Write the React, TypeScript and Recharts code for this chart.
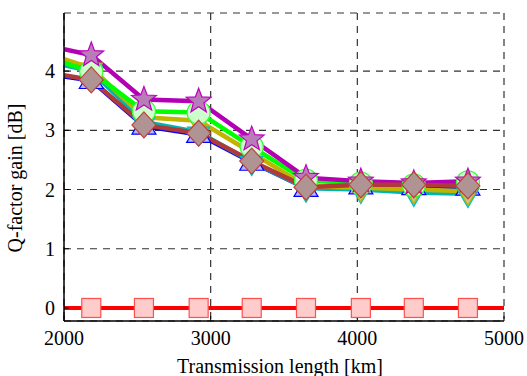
import React from 'react';
import {
  LineChart,
  Line,
  XAxis,
  YAxis,
  CartesianGrid,
} from 'recharts';

// transmission lengths [km]; first point sits on the left frame (no marker)
const lengths = [2000, 2186, 2545, 2918, 3280, 3650, 4024, 4385, 4754];
const redLengths = [2000, 2186, 2545, 2918, 3280, 3650, 4024, 4385, 4754, 5000];

// Q-factor gain [dB]
const blueGain = [3.91, 3.84, 3.07, 2.93, 2.46, 2.02, 2.06, 2.05, 2.04];
const cyanGain = [4.1, 4.0, 3.14, 2.97, 2.47, 2.02, 2.0, 1.95, 1.93];
const yellowGain = [4.2, 4.05, 3.22, 3.16, 2.62, 2.06, 2.03, 2.0, 1.97];
const greenGain = [4.14, 3.99, 3.32, 3.3, 2.72, 2.15, 2.1, 2.07, 2.12];
const magentaGain = [4.37, 4.27, 3.52, 3.49, 2.85, 2.2, 2.14, 2.11, 2.14];
const brownGain = [3.93, 3.85, 3.09, 2.95, 2.48, 2.04, 2.08, 2.08, 2.06];
const redGain = [0, 0, 0, 0, 0, 0, 0, 0, 0, 0];

const xTicks = [2000, 3000, 4000, 5000];
const yTicks = [0, 1, 2, 3, 4];

const toPoints = (xs: number[], ys: number[]) => xs.map((x, i) => ({ x, y: ys[i] }));

const FONT = "'Liberation Serif', 'Times New Roman', serif";

type Shape = 'square' | 'triUp' | 'triDown' | 'circle' | 'star' | 'diamond';

const starPath = (cx: number, cy: number, ro: number, ri: number) => {
  const pts: string[] = [];
  for (let k = 0; k < 10; k++) {
    const r = k % 2 === 0 ? ro : ri;
    const a = -Math.PI / 2 + (k * Math.PI) / 5;
    pts.push(`${cx + r * Math.cos(a)},${cy + r * Math.sin(a)}`);
  }
  return `M${pts.join('L')}Z`;
};

const makeDot = (shape: Shape, fill: string, stroke: string, lastIndex: number) => (props: any) => {
  const { cx, cy, index } = props;
  const key = `${shape}-${index}`;
  if (index === 0 || index > lastIndex || cx == null || cy == null) return <g key={key} />;
  const common = { fill, stroke, strokeWidth: 1.2 };
  switch (shape) {
    case 'square':
      return <rect key={key} x={cx - 9.5} y={cy - 9.5} width={19} height={19} {...common} />;
    case 'triUp':
      return <path key={key} d={`M${cx},${cy - 12}L${cx + 12},${cy + 8}L${cx - 12},${cy + 8}Z`} {...common} />;
    case 'triDown':
      return <path key={key} d={`M${cx - 11},${cy - 5}L${cx + 11},${cy - 5}L${cx},${cy + 14}Z`} {...common} />;
    case 'circle':
      return <circle key={key} cx={cx} cy={cy} r={11.5} {...common} />;
    case 'star':
      return <path key={key} d={starPath(cx, cy, 13, 5.5)} {...common} />;
    case 'diamond':
    default:
      return <path key={key} d={`M${cx},${cy - 13}L${cx + 12},${cy}L${cx},${cy + 13}L${cx - 12},${cy}Z`} {...common} />;
  }
};

const series = [
  { name: 'blue', data: blueGain, color: '#0000ff', shape: 'triUp' as Shape, fill: '#b4b8ff', mstroke: '#0000ff' },
  { name: 'cyan', data: cyanGain, color: '#00b4b4', shape: 'triDown' as Shape, fill: '#5cb8b8', mstroke: '#00c0c0' },
  { name: 'yellow', data: yellowGain, color: '#c0b400', shape: 'triDown' as Shape, fill: '#c8c48a', mstroke: '#c0b400' },
  { name: 'green', data: greenGain, color: '#00ff00', shape: 'circle' as Shape, fill: '#ccffcc', mstroke: '#33ff33' },
  { name: 'magenta', data: magentaGain, color: '#b400b4', shape: 'star' as Shape, fill: '#b87cb8', mstroke: '#c000c0' },
  { name: 'brown', data: brownGain, color: '#b03a3a', shape: 'diamond' as Shape, fill: '#b09494', mstroke: '#c0403a' },
];

const textStyle = { fill: '#000', fontSize: 20, fontFamily: FONT };

export default function App() {
  return (
    <div
      style={{
        position: 'fixed',
        left: 0,
        top: 0,
        width: 527,
        height: 376,
        overflow: 'hidden',
        background: '#fff',
        fontFamily: FONT,
      }}
    >
      <style>{`.recharts-wrapper text, .recharts-text { font-family: ${FONT} !important; }`}</style>
      <LineChart
        width={527}
        height={376}
        margin={{ top: 13, right: 23, left: 0, bottom: 0 }}
        style={{ fontFamily: FONT }}
      >
        <CartesianGrid stroke="#333" strokeDasharray="7 6" strokeWidth={1.2} />
        <XAxis
          dataKey="x"
          type="number"
          domain={[2000, 5000]}
          ticks={xTicks}
          allowDataOverflow
          height={55}
          tickSize={-5}
          tickMargin={15}
          axisLine={{ stroke: '#000', strokeWidth: 1.5 }}
          tickLine={{ stroke: '#000' }}
          tick={textStyle}
          label={{ value: 'Transmission length [km]', position: 'center', dy: 17, dx: -4, ...textStyle }}
        />
        <XAxis
          xAxisId="top"
          orientation="top"
          type="number"
          domain={[2000, 5000]}
          ticks={xTicks}
          height={0}
          tick={false}
          axisLine={{ stroke: '#000', strokeWidth: 1.5 }}
        />
        <YAxis
          type="number"
          domain={[-0.22, 4.98]}
          ticks={yTicks}
          allowDataOverflow
          width={64}
          tickSize={-5}
          tickMargin={14}
          axisLine={{ stroke: '#000', strokeWidth: 1.5 }}
          tickLine={{ stroke: '#000' }}
          tick={textStyle}
          label={{ value: 'Q-factor gain [dB]', angle: -90, position: 'center', dx: -17, dy: 11, ...textStyle }}
        />
        <YAxis
          yAxisId="right"
          orientation="right"
          type="number"
          domain={[-0.22, 4.98]}
          ticks={yTicks}
          width={0}
          tickSize={-5}
          tick={false}
          axisLine={{ stroke: '#000', strokeWidth: 1.5 }}
          tickLine={{ stroke: '#000' }}
        />
        <Line
          data={toPoints(redLengths, redGain)}
          dataKey="y"
          stroke="#ff0000"
          strokeWidth={4}
          dot={makeDot('square', '#ffcccc', '#ff5050', 8)}
          activeDot={false}
          isAnimationActive={false}
        />
        {series.map((s) => (
          <Line
            key={s.name}
            data={toPoints(lengths, s.data)}
            dataKey="y"
            stroke={s.color}
            strokeWidth={4.5}
            dot={makeDot(s.shape, s.fill, s.mstroke, 8)}
            activeDot={false}
            isAnimationActive={false}
          />
        ))}
      </LineChart>
    </div>
  );
}
